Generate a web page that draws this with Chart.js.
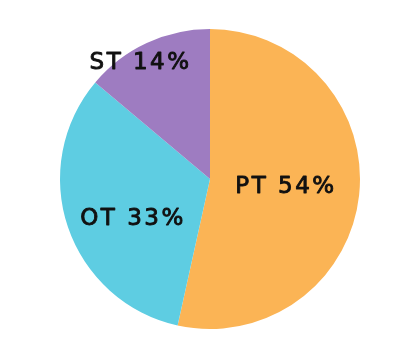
<!DOCTYPE html>
<html>
<head>
<meta charset="utf-8">
<script src="https://cdn.jsdelivr.net/npm/chart.js@4"></script>
<style>
  html, body { margin: 0; padding: 0; background: #fff; }
  #wrap { width: 420px; height: 360px; }
</style>
</head>
<body>
<div id="wrap"><canvas id="pie_chart"></canvas></div>
<script>
// slice data (clockwise from top)
var labels = ["PT", "OT", "ST"];
var values = [54, 33, 14];
var colors = ["#FBB455", "#5ECDE2", "#9E7CC1"];

// label placement: fraction of radius, angle shift in degrees
var labelRadius = [0.51, 0.58, 0.9];
var labelShift = [0, -9, -6];

var sliceLabels = {
    id: 'sliceLabels',
    afterDatasetsDraw: function (chart) {
        var c = chart.ctx;
        var meta = chart.getDatasetMeta(0);
        c.save();
        c.font = '23px "DejaVu Sans"';
        c.letterSpacing = '2.5px';
        c.fillStyle = '#111';
        c.strokeStyle = '#111';
        c.lineWidth = 0.9;
        c.lineJoin = 'round';
        c.textAlign = 'center';
        c.textBaseline = 'middle';
        meta.data.forEach(function (arc, i) {
            var p = arc.getProps(['x', 'y', 'startAngle', 'endAngle', 'outerRadius'], true);
            var a = (p.startAngle + p.endAngle) / 2 + labelShift[i] * Math.PI / 180;
            var r = p.outerRadius * labelRadius[i];
            var txt = labels[i] + ' ' + values[i] + '%';
            var tx = p.x + Math.cos(a) * r;
            var ty = p.y + Math.sin(a) * r;
            c.fillText(txt, tx, ty);
            c.strokeText(txt, tx, ty);
        });
        c.restore();
    }
};

var ctx = document.getElementById("pie_chart");
var myChart = new Chart(ctx, {
    type: 'pie',
    data: {
        labels: labels,
        datasets: [{
            data: values,
            backgroundColor: colors,
            borderWidth: 0
        }]
    },
    options: {
        responsive: true,
        maintainAspectRatio: false,
        animation: false,
        layout: { padding: { top: 29, bottom: 31 } },
        plugins: {
            legend: { display: false },
            tooltip: { enabled: false }
        }
    },
    plugins: [sliceLabels]
});
</script>
</body>
</html>
